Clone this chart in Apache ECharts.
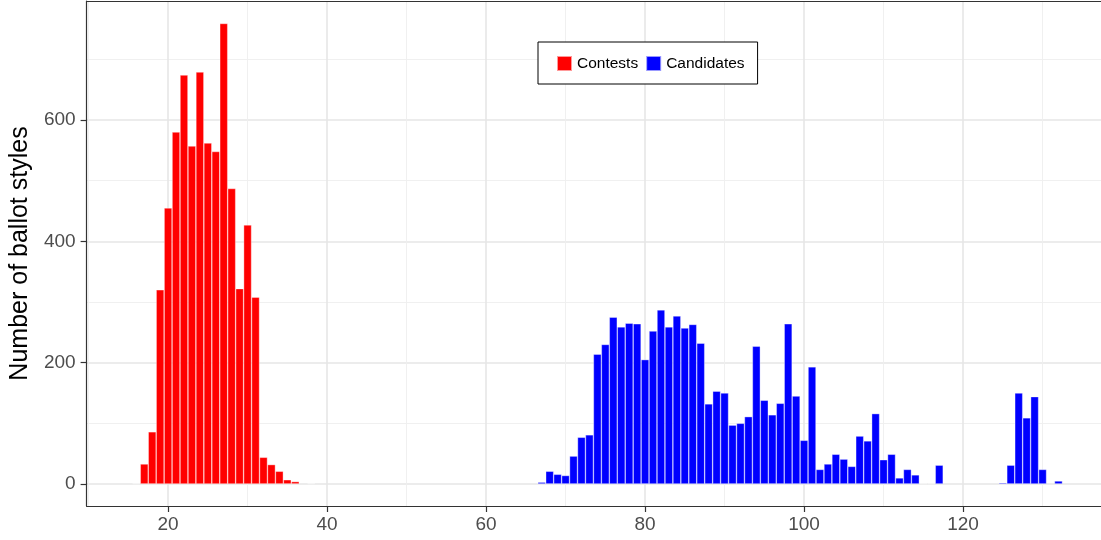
<!DOCTYPE html>
<html>
<head>
<meta charset="utf-8">
<script src="https://cdn.jsdelivr.net/npm/echarts@6/dist/echarts.min.js"></script>
<style>
html,body{margin:0;padding:0;background:#fff;}
#chart{width:1101px;height:540px;}
</style>
</head>
<body>
<div id="chart"></div>
<script>
// Histogram bins (bin centres) and counts
var contestBins   = [16,17,18,19,20,21,22,23,24,25,26,27,28,29,30,31,32,33,34,35,36,38];
var contestCounts = [1,33,86,320,455,580,674,557,679,562,548,759,487,322,427,308,44,32,21,7,4,1];

var candidateBins   = [67,68,69,70,71,72,73,74,75,76,77,78,79,80,81,82,83,84,85,86,87,88,89,90,
                       91,92,93,94,95,96,97,98,99,100,101,102,103,104,105,106,107,108,109,110,
                       111,112,113,114,115,116,117,125,126,127,128,129,130,132];
var candidateCounts = [3,21,16,14,46,77,81,214,230,275,259,265,264,205,252,287,259,277,257,263,232,132,153,150,
                       97,100,111,227,138,114,133,264,145,72,193,24,33,49,41,29,79,71,116,40,
                       49,10,24,15,1,1,31,2,31,150,109,144,24,5];

var xTicks = [20,40,60,80,100,120];
var xMinor = [10,30,50,70,90,110,130];
var yTicks = [0,200,400,600];
var yMinor = [100,300,500,700];

var seriesNames = ['Contests','Candidates'];
var yTitle = 'Number of ballot styles';

function pairs(xs, ys){ return xs.map(function(x,i){ return [x, ys[i]]; }); }

var FONT = "'Liberation Sans', Arial, Helvetica, sans-serif";
var XMIN = 9.75, XMAX = 137.35, YMIN = -36.3, YMAX = 796;
var majorGrid = {show:true, lineStyle:{color:'#e6e6e6', width:1.6}};
var minorGrid = {show:true, lineStyle:{color:'#eeeeee', width:0.9}};

var chart = echarts.init(document.getElementById('chart'), null, {renderer:'canvas'});
chart.setOption({
  animation:false,
  backgroundColor:'#ffffff',
  textStyle:{fontFamily:FONT},
  grid:{left:84, right:0, top:1, bottom:34, containLabel:false},
  legend:{
    data:seriesNames,
    left:538, top:42,
    orient:'horizontal',
    icon:'rect', itemWidth:15, itemHeight:15, itemGap:7,
    padding:[13,13,12,18],
    borderColor:'#000', borderWidth:1, backgroundColor:'#fff',
    textStyle:{fontFamily:FONT, fontSize:15.5, color:'#000'}
  },
  xAxis:[
    {type:'value', min:XMIN, max:XMAX, position:'bottom',
     axisLine:{show:true, onZero:false, lineStyle:{color:'#333', width:1.2}},
     axisTick:{show:true, customValues:xTicks, length:6, lineStyle:{color:'#333', width:1.2}},
     axisLabel:{show:true, customValues:xTicks, margin:9, fontSize:19, color:'#4d4d4d', fontFamily:FONT},
     splitLine:majorGrid},
    {type:'value', min:XMIN, max:XMAX, position:'bottom',
     axisLine:{show:false}, axisTick:{show:false, customValues:xMinor},
     axisLabel:{show:false, customValues:xMinor}, splitLine:minorGrid},
    {type:'value', min:XMIN, max:XMAX, position:'top',
     axisLine:{show:true, onZero:false, lineStyle:{color:'#333', width:1.2}},
     axisTick:{show:false}, axisLabel:{show:false}, splitLine:{show:false}}
  ],
  yAxis:[
    {type:'value', min:YMIN, max:YMAX, position:'left',
     name:yTitle, nameLocation:'middle', nameGap:53,
     nameTextStyle:{fontSize:25, color:'#000', fontFamily:FONT},
     axisLine:{show:true, onZero:false, lineStyle:{color:'#333', width:1.2}},
     axisTick:{show:true, customValues:yTicks, length:6, lineStyle:{color:'#333', width:1.2}},
     axisLabel:{show:true, customValues:yTicks, margin:11, fontSize:19, color:'#4d4d4d', fontFamily:FONT},
     splitLine:majorGrid},
    {type:'value', min:YMIN, max:YMAX, position:'left',
     axisLine:{show:false}, axisTick:{show:false, customValues:yMinor},
     axisLabel:{show:false, customValues:yMinor}, splitLine:minorGrid}
  ],
  series:[
    {name:seriesNames[0], type:'bar', xAxisIndex:0, yAxisIndex:0,
     data:pairs(contestBins, contestCounts),
     barWidth:7.97, barGap:'-100%',
     itemStyle:{color:'#ff0000', borderColor:'rgba(255,255,255,0.6)', borderWidth:0.6}},
    {name:seriesNames[1], type:'bar', xAxisIndex:0, yAxisIndex:0,
     data:pairs(candidateBins, candidateCounts),
     barWidth:7.97, barGap:'-100%',
     itemStyle:{color:'#0000ff', borderColor:'rgba(255,255,255,0.6)', borderWidth:0.6}}
  ]
});
</script>
</body>
</html>
